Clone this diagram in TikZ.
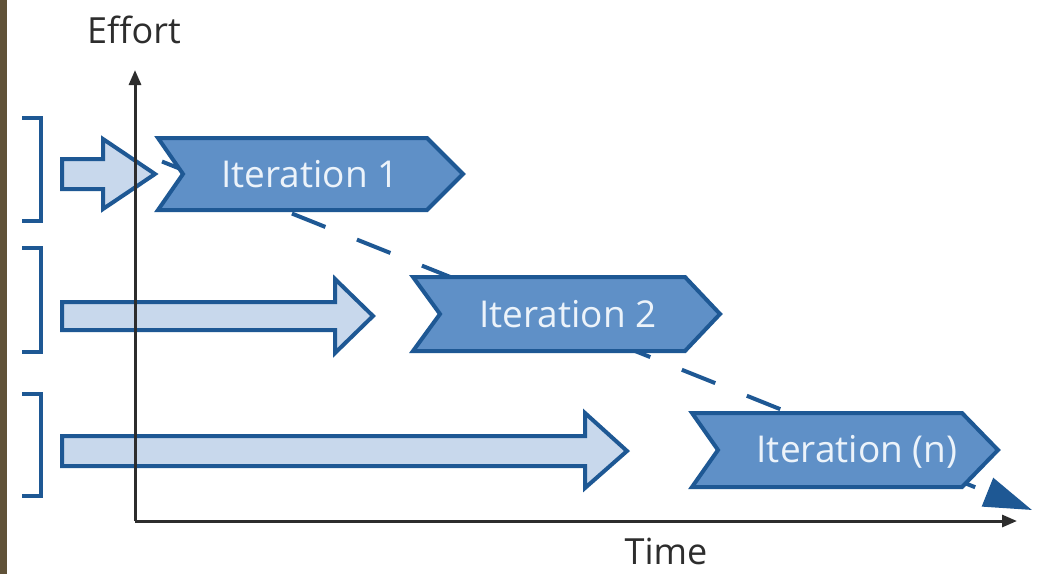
\documentclass[tikz,border=0pt]{standalone}
\usepackage{fontspec}
\setmainfont{Open Sans}
\usetikzlibrary{arrows.meta}
\definecolor{darkblue}{RGB}{30,88,148}
\definecolor{midblue}{RGB}{95,144,199}
\definecolor{lightblue}{RGB}{200,216,236}
\definecolor{chevtext}{RGB}{236,243,250}
\definecolor{axisgray}{RGB}{45,45,45}
\definecolor{barbrown}{RGB}{96,82,56}
\begin{document}
\begin{tikzpicture}[x=1pt,y=-1pt,
  blockarrow/.style={draw=darkblue,fill=lightblue,line width=4pt,line join=miter},
  chevron/.style={draw=darkblue,fill=midblue,line width=4pt,line join=miter},
  chevlabel/.style={anchor=base,text=chevtext,font=\fontsize{37}{40}\selectfont,inner sep=0pt},
  axislabel/.style={anchor=base,text=axisgray,font=\fontsize{36}{40}\selectfont,inner sep=0pt},
  axisline/.style={draw=axisgray,line width=3pt,-{Triangle[length=15pt,width=12pt]}},
  bracketline/.style={draw=darkblue,line width=4pt},
  trend/.style={draw=darkblue,line width=4pt,dash pattern=on 36pt off 34pt,-{Triangle[length=48pt,width=30pt]}}
]
\useasboundingbox (0,0) rectangle (1046,574);
\fill[white] (0,0) rectangle (1046,574);
\fill[barbrown] (0,0) rectangle (7,574);

% brackets
\draw[bracketline] (22,118) -- (41,118) -- (41,221) -- (22,221);
\draw[bracketline] (22,248) -- (41,248) -- (41,352) -- (22,352);
\draw[bracketline] (22,394) -- (41,394) -- (41,496) -- (22,496);

% block arrows
\draw[blockarrow] (62,159) -- (103,159) -- (103,139) -- (155,174) -- (103,209) -- (103,189) -- (62,189) -- cycle;
\draw[blockarrow] (62,302) -- (335,302) -- (335,279) -- (373,316) -- (335,353) -- (335,330) -- (62,330) -- cycle;
\draw[blockarrow] (62,436) -- (585,436) -- (585,413) -- (627,451) -- (585,488) -- (585,466) -- (62,466) -- cycle;

% axes
\coordinate (origin) at (135,521);
\coordinate (ytip) at (135,70);
\coordinate (xtip) at (1017,521);
\draw[axisline] (origin) -- (ytip);
\draw[axisline] (origin) -- (xtip);
\node[axislabel] (effort) at (134,43) {Effort};
\node[axislabel] (time) at (666,564) {Time};

% trend line (behind chevrons)
\coordinate (trendstart) at (162,161.5);
\coordinate (trendend) at (1032,510);
\draw[trend] (trendstart) -- (trendend);

% chevrons
\draw[chevron] (158,138) -- (427,138) -- (463,174) -- (427,210) -- (158,210) -- (183,174) -- cycle;
\draw[chevron] (413,277) -- (685,277) -- (720,314) -- (685,351) -- (413,351) -- (440,314) -- cycle;
\draw[chevron] (692,413) -- (962,413) -- (998,450) -- (962,487) -- (692,487) -- (718,450) -- cycle;

\node[chevlabel] (it1) at (310,187) {Iteration 1};
\node[chevlabel] (it2) at (568,327) {Iteration 2};
\node[chevlabel] (itn) at (857,462) {Iteration (n)};
\end{tikzpicture}
\end{document}
